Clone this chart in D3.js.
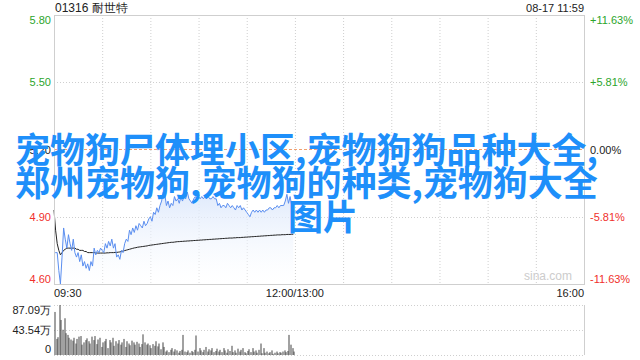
<!DOCTYPE html>
<html>
<head>
<meta charset="utf-8">
<script src="https://cdn.jsdelivr.net/npm/d3@7"></script>
<style>
  html, body { margin: 0; padding: 0; background: #fff; }
  svg { display: block; font-family: "Liberation Sans", Arial, sans-serif; }
</style>
</head>
<body>
<div id="chart"></div>
<script>
// 01316 intraday, one value per minute from 09:30 to 11:59
const prices = [
  4.74, 4.74, 4.74, 4.66, 4.60, 4.72, 4.85, 4.80, 4.76, 4.82,
  4.78, 4.75, 4.80, 4.74, 4.72, 4.74, 4.70, 4.73, 4.68, 4.70,
  4.67, 4.69, 4.66, 4.70, 4.68, 4.76, 4.73, 4.75, 4.74, 4.76,
  4.75, 4.74, 4.78, 4.76, 4.79, 4.77, 4.80, 4.76, 4.78, 4.72,
  4.73, 4.71, 4.75, 4.74, 4.78, 4.80, 4.79, 4.84, 4.82, 4.85,
  4.83, 4.86, 4.84, 4.87, 4.86, 4.85, 4.88, 4.86, 4.87, 4.89,
  4.90, 4.88, 4.92, 4.91, 4.94, 4.92, 4.95, 4.97, 5.01, 5.00,
  4.95, 4.97, 4.94, 4.96, 4.95, 4.99, 4.97, 4.98, 4.96, 4.99,
  4.97, 4.99, 4.98, 5.01, 4.98, 4.97, 4.96, 4.98, 4.99, 4.98,
  4.99, 4.98, 4.99, 4.98, 4.99, 4.98, 4.99, 4.98, 4.98, 4.99,
  4.98, 4.98, 4.95, 4.96, 4.94, 4.95, 4.95, 4.94, 4.96, 4.95,
  4.94, 4.95, 4.94, 4.93, 4.95, 4.94, 4.95, 4.93, 4.94, 4.93,
  4.92, 4.91, 4.90, 4.92, 4.93, 4.92, 4.93, 4.92, 4.93, 4.92,
  4.93, 4.92, 4.93, 4.93, 4.94, 4.94, 4.93, 4.94, 4.94, 4.95,
  4.94, 4.95, 4.95, 4.95, 4.97, 5.00, 4.96, 4.99, 4.95, 4.95
];

const avgPrices = [
  4.93, 4.84, 4.78, 4.75, 4.73, 4.74, 4.75, 4.755, 4.76, 4.76,
  4.76, 4.76, 4.76, 4.76, 4.755, 4.755, 4.75, 4.75, 4.75, 4.745,
  4.745, 4.74, 4.74, 4.74, 4.74, 4.74, 4.738, 4.738, 4.738, 4.738,
  4.738, 4.738, 4.738, 4.739, 4.739, 4.74, 4.74, 4.74, 4.741, 4.741,
  4.742, 4.743, 4.745, 4.747, 4.749, 4.751, 4.753, 4.755, 4.757, 4.759,
  4.761, 4.762, 4.764, 4.765, 4.766, 4.767, 4.768, 4.769, 4.770, 4.772,
  4.773, 4.774, 4.775, 4.776, 4.777, 4.778, 4.779, 4.780, 4.781, 4.782,
  4.783, 4.784, 4.785, 4.786, 4.786, 4.787, 4.788, 4.789, 4.789, 4.790,
  4.790, 4.791, 4.791, 4.792, 4.792, 4.793, 4.793, 4.794, 4.794, 4.795,
  4.795, 4.796, 4.796, 4.797, 4.797, 4.798, 4.798, 4.799, 4.799, 4.800,
  4.800, 4.801, 4.801, 4.802, 4.802, 4.803, 4.803, 4.804, 4.804, 4.805,
  4.805, 4.805, 4.806, 4.806, 4.807, 4.807, 4.807, 4.808, 4.808, 4.809,
  4.809, 4.810, 4.810, 4.811, 4.811, 4.812, 4.812, 4.813, 4.813, 4.814,
  4.814, 4.815, 4.815, 4.816, 4.816, 4.817, 4.817, 4.818, 4.818, 4.819,
  4.819, 4.819, 4.820, 4.820, 4.820, 4.821, 4.821, 4.821, 4.822, 4.822
];

// volume per minute, in 万 shares
const volumes = [
  75, 28, 31, 87, 61, 44, 64, 38, 35, 30,
  27, 25, 30, 20, 28, 32, 33, 18, 22, 26,
  29, 24, 20, 32, 26, 33, 19, 27, 30, 14,
  22, 24, 28, 12, 26, 22, 30, 16, 24, 20,
  26, 18, 22, 28, 14, 24, 20, 17, 25, 22,
  18, 23, 20, 14, 19, 36, 22, 18, 20, 17,
  12, 19, 16, 24, 15, 20, 10, 22, 14, 6,
  8, 5, 9, 12, 6, 10, 8, 4, 7, 9,
  35, 6, 5, 8, 4, 7, 5, 9, 34, 6,
  12, 8, 5, 9, 14, 6, 10, 8, 12, 5,
  7, 11, 6, 9, 5, 12, 8, 4, 10, 7,
  16, 5, 8, 4, 11, 6, 9, 12, 5, 3,
  7, 10, 5, 12, 6, 8, 4, 9, 20, 3,
  12, 4, 6, 3, 5, 8, 2, 4, 6, 3,
  5, 4, 6, 8, 5, 7, 35, 18, 12, 6
];

const prevClose = 5.20;
const priceTicks = [5.80, 5.50, 5.20, 4.90, 4.60];
const pctTicks = ["+11.63%", "+5.81%", "0.00%", "-5.81%", "-11.63%"];
const volTicks = [87.09, 43.54, 0];
const volTickLabels = ["87.09万", "43.54万", "0"];
const timeTicks = [0, 150, 330];
const timeLabels = ["09:30", "12:00/13:00", "16:00"];

const title = "01316 耐世特";
const stamp = "08-17 11:59";
const overlayLines = [
  "宠物狗尸体埋小区,宠物狗狗品种大全,",
  "郑州宠物狗,宠物狗的种类,宠物狗大全",
  "图片"
];

const W = 640, H = 360;
const left = 54, right = 584;
const pTop = 15, pBottom = 284;
const vTop = 305, vBottom = 355;

const green = "#2ca52c", red = "#f0302c", grid = "#cfcfcf";

const svg = d3.select("#chart").append("svg")
  .attr("width", W).attr("height", H);

const x = d3.scaleLinear().domain([0, 330]).range([left, right]);
const y = d3.scaleLinear().domain([4.60, 5.80]).range([pBottom, pTop]);
const yv = d3.scaleLinear().domain([0, 87.09]).range([vBottom, vTop]);

const tickColor = v => v > prevClose + 1e-6 ? green : (v < prevClose - 1e-6 ? red : "#222");

// header
svg.append("text").attr("x", left + 1).attr("y", 12)
  .style("font-size", "12px").attr("fill", "#222").text(title);
svg.append("text").attr("x", right).attr("y", 12).attr("text-anchor", "end")
  .style("font-size", "11px").attr("fill", "#222").text(stamp);

// vertical grid in price panel
svg.append("g").selectAll("line")
  .data(d3.range(30, 330, 30))
  .join("line")
  .attr("x1", d => x(d) + 0.5).attr("x2", d => x(d) + 0.5)
  .attr("y1", pTop).attr("y2", pBottom)
  .attr("stroke", grid).attr("stroke-dasharray", "1,2");

// horizontal grid
svg.append("g").selectAll("line")
  .data(priceTicks.slice(1, -1).filter(d => d !== prevClose))
  .join("line")
  .attr("x1", left).attr("x2", right)
  .attr("y1", d => Math.round(y(d)) + 0.5).attr("y2", d => Math.round(y(d)) + 0.5)
  .attr("stroke", grid).attr("stroke-dasharray", "1,2");

// area + lines
const defs = svg.append("defs");
const grad = defs.append("linearGradient").attr("id", "fillGrad")
  .attr("x1", 0).attr("y1", 0).attr("x2", 0).attr("y2", 1);
grad.append("stop").attr("offset", "0%").attr("stop-color", "#dbe7fb").attr("stop-opacity", 0.9);
grad.append("stop").attr("offset", "100%").attr("stop-color", "#ffffff").attr("stop-opacity", 0.3);

const pts = prices.map((p, i) => ({ m: i, p }));

svg.append("path").datum(pts)
  .attr("fill", "url(#fillGrad)")
  .attr("d", d3.area().x(d => x(d.m)).y0(pBottom).y1(d => y(d.p)));

svg.append("line")
  .attr("x1", left).attr("x2", right)
  .attr("y1", Math.round(y(prevClose)) + 0.5).attr("y2", Math.round(y(prevClose)) + 0.5)
  .attr("stroke", "#f0a070").attr("stroke-dasharray", "3,2");

svg.append("path").datum(avgPrices)
  .attr("fill", "none").attr("stroke", "#222").attr("stroke-width", 1)
  .attr("d", d3.line().x((d, i) => x(i)).y(d => y(d)));

svg.append("path").datum(pts)
  .attr("fill", "none").attr("stroke", "#5a8ef0").attr("stroke-width", 1)
  .attr("d", d3.line().x(d => x(d.m)).y(d => y(d.p)));

// price panel border
svg.append("rect")
  .attr("x", left + 0.5).attr("y", pTop + 0.5)
  .attr("width", right - left).attr("height", pBottom - pTop)
  .attr("fill", "none").attr("stroke", grid);

// watermark
svg.append("text").attr("x", right - 12).attr("y", pBottom - 4)
  .attr("text-anchor", "end").style("font-size", "12px")
  .attr("fill", "#cccccc").text("sina.com");

// left price labels
const yAxis = svg.append("g").attr("transform", `translate(${left - 3},0)`)
  .call(d3.axisLeft(y).tickValues(priceTicks).tickSize(0).tickPadding(0)
    .tickFormat(d3.format(".2f")));
yAxis.select(".domain").remove();
yAxis.selectAll("text")
  .style("font-size", "11px").style("font-family", "Liberation Sans, Arial, sans-serif")
  .attr("fill", d => tickColor(d))
  .attr("dy", (d, i) => i === 0 ? "0.75em" : (i === priceTicks.length - 1 ? "-0.1em" : "0.32em"));

// right percent labels
const rAxis = svg.append("g").attr("transform", `translate(${right + 6},0)`)
  .call(d3.axisRight(y).tickValues(priceTicks).tickSize(0).tickPadding(0)
    .tickFormat((d, i) => pctTicks[i]));
rAxis.select(".domain").remove();
rAxis.selectAll("text")
  .style("font-size", "11px").style("font-family", "Liberation Sans, Arial, sans-serif")
  .attr("fill", d => tickColor(d))
  .attr("dy", (d, i) => i === 0 ? "0.75em" : (i === priceTicks.length - 1 ? "-0.1em" : "0.32em"));

// time labels
svg.append("g").selectAll("text")
  .data(timeTicks)
  .join("text")
  .attr("x", d => x(d))
  .attr("y", 297)
  .attr("text-anchor", (d, i) => i === 0 ? "start" : (i === timeTicks.length - 1 ? "end" : "middle"))
  .style("font-size", "11px").attr("fill", "#222")
  .text((d, i) => timeLabels[i]);

// volume panel
svg.append("g").selectAll("line")
  .data(volTicks)
  .join("line")
  .attr("x1", left).attr("x2", right)
  .attr("y1", d => Math.round(yv(d)) + 0.5).attr("y2", d => Math.round(yv(d)) + 0.5)
  .attr("stroke", grid).attr("stroke-dasharray", "1,2");
svg.append("line")
  .attr("x1", right + 0.5).attr("x2", right + 0.5)
  .attr("y1", vTop).attr("y2", vBottom)
  .attr("stroke", grid);

svg.append("g").selectAll("rect")
  .data(volumes)
  .join("rect")
  .attr("x", (d, i) => Math.round(x(i)) + 0.5)
  .attr("y", d => yv(d))
  .attr("width", 1)
  .attr("height", d => vBottom - yv(d))
  .attr("fill", "#444");

svg.append("g").selectAll("text")
  .data(volTicks)
  .join("text")
  .attr("x", left - 3)
  .attr("y", d => yv(d))
  .attr("dy", (d, i) => i === 0 ? "0.8em" : (i === volTicks.length - 1 ? "-0.15em" : "0.35em"))
  .attr("text-anchor", "end")
  .style("font-size", "11px").attr("fill", "#222")
  .text((d, i) => volTickLabels[i]);

// overlaid caption
const cap = svg.append("g")
  .style("font-family", "'Noto Sans CJK SC', sans-serif")
  .style("font-size", "35px").style("font-weight", "bold")
  .attr("fill", "#1e8ffa");
const capPos = [[15, 163], [15, 196], [288, 230]];
overlayLines.forEach((t, i) => {
  cap.append("text").attr("x", capPos[i][0]).attr("y", capPos[i][1]).text(t);
});
</script>
</body>
</html>
